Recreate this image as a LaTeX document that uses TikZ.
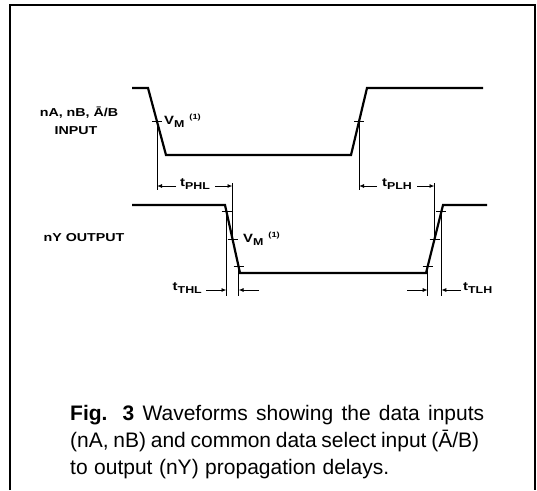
\documentclass[tikz,border=0pt]{standalone}
\usepackage{fontspec}
\setmainfont{Liberation Sans}
\newfontfamily\lblfont[FakeStretch=1.24]{Liberation Sans}
\usetikzlibrary{calc,arrows.meta}
\newcommand\lowsub[1]{\raisebox{-3pt}{\fontsize{10}{10}\selectfont #1}}
\newcommand\highsup[1]{\raisebox{5pt}{\fontsize{7.5}{8}\selectfont #1}}
\begin{document}
\begin{tikzpicture}[x=1pt,y=-1pt,
  wave/.style={line width=2.2pt, line join=miter},
  refline/.style={line width=0.9pt},
  tickmark/.style={line width=1pt},
  dimarrow/.style={line width=0.9pt,-{Latex[length=5pt,width=4pt]}},
  lbl/.style={font=\lblfont\bfseries\fontsize{11.5}{12}\selectfont, inner sep=0pt},
  sublbl/.style={font=\lblfont\bfseries\fontsize{12}{12}\selectfont, inner sep=0pt},
  caption/.style={font=\fontsize{21}{27}\selectfont, inner sep=0pt}]
\useasboundingbox (0,0) rectangle (537,490);
% frame
\draw[line width=2.6pt] (10,490) -- (10,5) -- (535,5) -- (535,490);
% input waveform
\coordinate (i0) at (132,88);
\coordinate (i1) at (148,88);
\coordinate (i2) at (166,155);
\coordinate (i3) at (351,155);
\coordinate (i4) at (367,88);
\coordinate (i5) at (483,88);
\draw[wave] (i0) -- (i1) -- (i2) -- (i3) -- (i4) -- (i5);
\coordinate (if) at ($(i1)!0.5!(i2)$);
\coordinate (ir) at ($(i3)!0.5!(i4)$);
% output waveform
\coordinate (o0) at (132,205);
\coordinate (o1) at (225,205);
\coordinate (o2) at (240,273);
\coordinate (o3) at (426,273);
\coordinate (o4) at (443,205);
\coordinate (o5) at (487,205);
\draw[wave] (o0) -- (o1) -- (o2) -- (o3) -- (o4) -- (o5);
\coordinate (of1) at ($(o1)!0.1!(o2)$);
\coordinate (of5) at ($(o1)!0.5!(o2)$);
\coordinate (of9) at ($(o1)!0.9!(o2)$);
\coordinate (or1) at ($(o3)!0.1!(o4)$);
\coordinate (or5) at ($(o3)!0.5!(o4)$);
\coordinate (or9) at ($(o3)!0.9!(o4)$);
% ticks
\foreach \p in {if,ir,of1,of5,of9,or1,or5,or9}
  \draw[tickmark] ([xshift=-5pt]\p) -- ([xshift=5pt]\p);
% reference lines
\coordinate (yp) at (0,190);
\coordinate (yq) at (0,183);
\coordinate (yt) at (0,296);
\draw[refline] (if) -- (if |- yp);
\draw[refline] (ir) -- (ir |- yp);
\draw[refline] (of5) -- (of5 |- yq);
\draw[refline] (or5) -- (or5 |- yq);
\draw[refline] (of1) -- (of1 |- yt);
\draw[refline] (of9) -- (of9 |- yt);
\draw[refline] (or1) -- (or1 |- yt);
\draw[refline] (or9) -- (or9 |- yt);
% labels
\node[lbl] (inlbl) at (79,113) {nA, nB, \=A/B};
\node[lbl] (inlbl2) at (76,131) {INPUT};
\node[lbl] (outlbl) at (84,238) {nY\hspace{4pt}OUTPUT};
\node[sublbl, anchor=west] (vm1) at (164,121) {V\lowsub{M}\hspace{5pt}\highsup{(1)}};
\node[sublbl, anchor=west] (vm2) at (243,239) {V\lowsub{M}\hspace{5pt}\highsup{(1)}};
% tPHL
\node[sublbl] (tphl) at (195,184) {t\lowsub{PHL}};
\coordinate (tphlA) at (176,186);
\coordinate (tphlB) at (215,186);
\draw[dimarrow] (tphlA) -- (if |- tphlA);
\draw[dimarrow] (tphlB) -- (of5 |- tphlB);
% tPLH
\node[sublbl] (tplh) at (397,184) {t\lowsub{PLH}};
\coordinate (tplhA) at (377,186);
\coordinate (tplhB) at (417,186);
\draw[dimarrow] (tplhA) -- (ir |- tplhA);
\draw[dimarrow] (tplhB) -- (or5 |- tplhB);
% tTHL
\node[sublbl, anchor=east] (tthl) at (202,288) {t\lowsub{THL}};
\coordinate (tthlA) at (206,290);
\coordinate (tthlB) at (259,290);
\draw[dimarrow] (tthlA) -- (of1 |- tthlA);
\draw[dimarrow] (tthlB) -- (of9 |- tthlB);
% tTLH
\node[sublbl, anchor=west] (ttlh) at (463,288) {t\lowsub{TLH}};
\coordinate (ttlhA) at (407,290);
\coordinate (ttlhB) at (461,290);
\draw[dimarrow] (ttlhA) -- (or1 |- ttlhA);
\draw[dimarrow] (ttlhB) -- (or9 |- ttlhB);
% caption
\node[caption, anchor=base west] (cap1) at (70,420) {\makebox[414pt][s]{\textbf{Fig. 3} Waveforms showing the data inputs}};
\node[caption, anchor=base west] (cap2) at (70,447) {\makebox[409pt][s]{(nA, nB) and common data select input (\=A/B)}};
\node[caption, anchor=base west] (cap3) at (70,474) {\makebox[319pt][s]{to output (nY) propagation delays.}};
\end{tikzpicture}
\end{document}
